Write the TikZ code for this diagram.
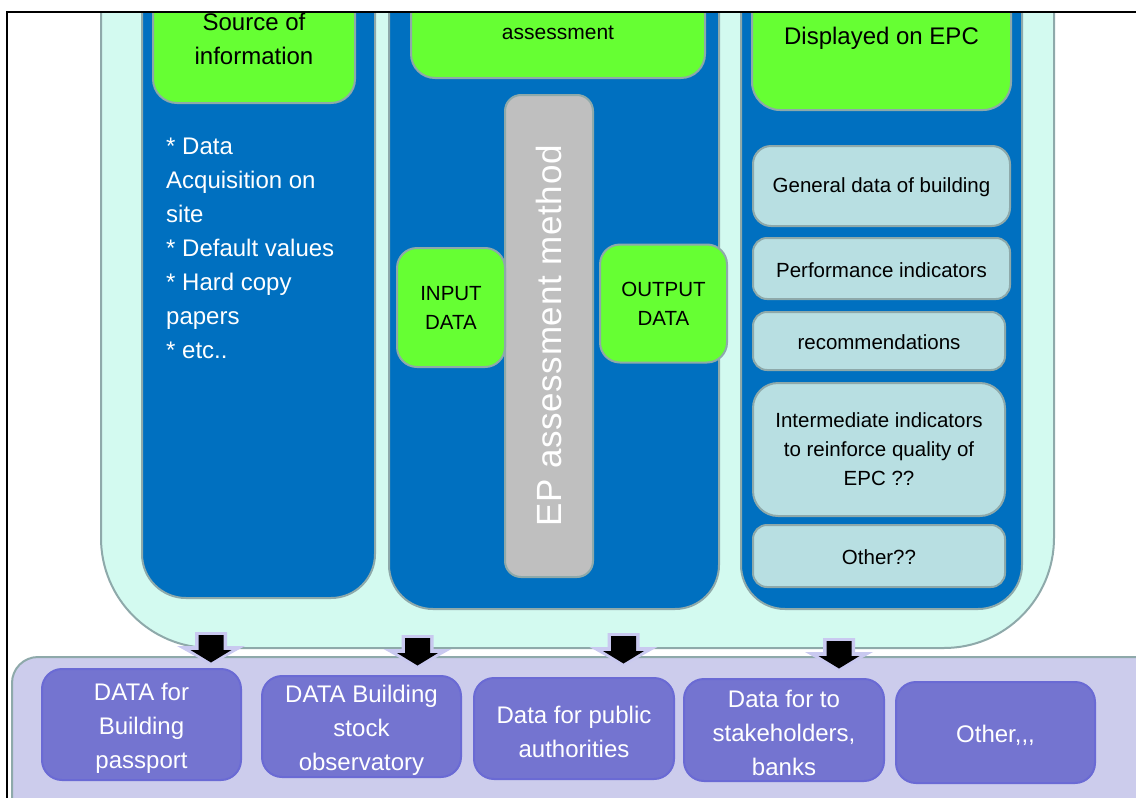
\documentclass[tikz,border=0pt]{standalone}
\usepackage{fontspec}
\setmainfont{Liberation Sans}
\newfontfamily\spacedsans[LetterSpace=2]{Liberation Sans}
\definecolor{grn}{HTML}{66FF33}
\definecolor{blu}{HTML}{0070C0}
\definecolor{cyn}{HTML}{D3FAF0}
\definecolor{edge}{HTML}{8EA9AA}
\definecolor{ltb}{HTML}{B8DFE2}
\definecolor{lav}{HTML}{CCCCEC}
\definecolor{pur}{HTML}{7474D0}
\definecolor{purline}{HTML}{6A6AD4}
\definecolor{gry}{HTML}{BFBFBF}
\definecolor{arrglow}{HTML}{C9C9F0}
\newcommand\fbig{\fontsize{24}{34}\selectfont}
\newcommand\fmid{\fontsize{20.5}{29}\selectfont}
% taller first line, so the text block sits a little lower in its box
\newcommand\padtop{\rule{0pt}{24pt}}
\begin{document}
\begin{tikzpicture}[x=1pt,y=-1pt,
  box/.style={draw=edge, line width=2pt, inner sep=0pt, outer sep=0pt, align=center},
  column/.style={box, fill=blu, rounded corners=44pt},
  greenbox/.style={box, fill=grn, text=black, rounded corners=24pt},
  listbox/.style={box, fill=ltb, text=black, font=\fmid, minimum width=252pt,
    execute at begin node={\rule{0pt}{18pt}}},
  outbox/.style={box, draw=purline, fill=pur, text=white, font=\fbig, rounded corners=20pt,
    minimum width=199pt, minimum height=101pt},
  arrowglow/.style={fill=arrglow},
  arrowbody/.style={fill=black},
  frame/.style={draw=black, line width=2.5pt}]
\useasboundingbox (0,0) rectangle (1136,798);
\begin{scope}
\clip (7,12) rectangle (1136,798);
% containers
\node[box, fill=cyn, rounded corners=110pt, minimum width=953pt, minimum height=848pt] (outer) at (577.5,224) {};
\node[box, fill=lav, rounded corners=26pt, minimum width=1148pt, minimum height=193pt] (lower) at (586,753.5) {};
% three columns
\node[column, minimum width=233pt, minimum height=698pt] (colA) at (258.5,249) {};
\node[column, minimum width=330pt, minimum height=709pt] (colB) at (554,254.5) {};
\node[column, minimum width=281pt, minimum height=709pt] (colC) at (881.5,254.5) {};
% headers
\node[greenbox, font=\fbig, minimum width=202pt, minimum height=128pt] (src) at (254,39) {Source of\\information};
\node[greenbox, font=\fontsize{21}{29}\selectfont, minimum width=294pt, minimum height=90pt] (assess) at (558,33) {assessment};
\node[greenbox, font=\fbig, rounded corners=28pt, minimum width=259pt, minimum height=144pt] (shown) at (881.5,38) {Displayed on EPC};
% sources list
\node[anchor=north west, inner sep=0pt, align=left, text=white, font=\fbig] (srclist) at (166,138)
  {* Data\\Acquisition on\\site\\* Default values\\* Hard copy\\papers\\* etc..};
% assessment method
\node[box, fill=gry, text=white, rotate=90, rounded corners=16pt, minimum width=482pt, minimum height=88pt,
  font=\spacedsans\fontsize{35}{40}\selectfont] (method) at (549,336) {EP assessment method};
\node[greenbox, font=\fmid, rounded corners=20pt, minimum width=108pt, minimum height=119pt] (input) at (451,307.5) {INPUT\\DATA};
\node[greenbox, font=\fmid, rounded corners=20pt, minimum width=127pt, minimum height=118pt] (output) at (663.5,303.5) {OUTPUT\\DATA};
% EPC contents
\node[listbox, rounded corners=18pt, minimum width=257pt, minimum height=80pt] (general) at (881.5,186) {General data of building};
\node[listbox, rounded corners=14pt, minimum width=257pt, minimum height=61pt] (perf) at (881.5,268.5) {Performance indicators};
\node[listbox, rounded corners=14pt, minimum height=58pt] (recom) at (879,341) {recommendations};
\node[listbox, rounded corners=25pt, minimum height=133pt] (interm) at (879,449.5) {Intermediate indicators\\to reinforce quality of\\EPC ??};
\node[listbox, rounded corners=14pt, minimum height=62pt] (other) at (879,556) {Other??};
% uses of the data
\node[outbox, minimum height=111pt] (passport) at (141.5,724.5) {\padtop DATA for\\Building\\passport};
\node[outbox] (stock) at (361.5,726.5) {\padtop DATA Building\\stock\\observatory};
\node[outbox, minimum width=200pt] (public) at (574,728.5) {\padtop Data for public\\authorities};
\node[outbox, minimum width=200pt, minimum height=102pt] (banks) at (784,730) {\padtop Data for to\\stakeholders,\\banks};
\node[outbox] (others) at (995.5,732.5) {\padtop Other{,}{,}{,}};
% block arrows from the EPC scheme to its uses (glow behind, black body on top)
\coordinate (a1) at (211,635);
\coordinate (a2) at (417.5,638);
\coordinate (a3) at (623.5,636);
\coordinate (a4) at (839,641);
\foreach \k in {1,2,3,4}{
  \fill[arrowglow] (a\k) ++(-16,-3) -- ++(32,0) -- ++(0,14) -- ++(18,0) -- ++(-34,19)
    -- ++(-34,-19) -- ++(18,0) -- cycle;
  \fill[arrowbody] (a\k) ++(-12.5,0) -- ++(25,0) -- ++(0,15) -- ++(8,0) -- ++(-20.5,12.5)
    -- ++(-20.5,-12.5) -- ++(8,0) -- cycle;
}
\end{scope}
\draw[frame] (7,798) -- (7,12) -- (1136,12);
\end{tikzpicture}
\end{document}
